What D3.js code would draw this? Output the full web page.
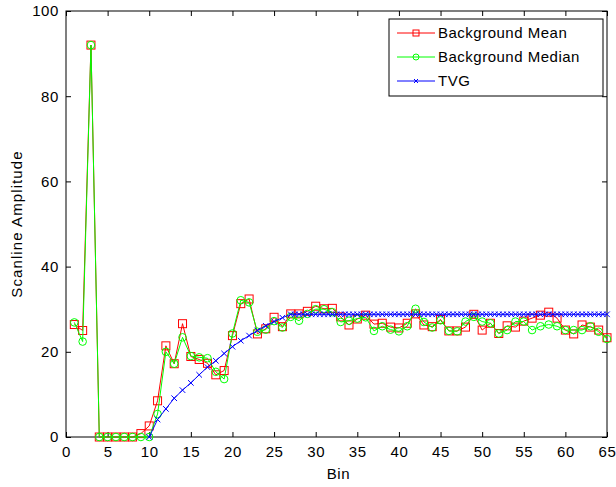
<!DOCTYPE html>
<html>
<head>
<meta charset="utf-8">
<script src="https://cdn.jsdelivr.net/npm/d3@7/dist/d3.min.js"></script>
<style>
  html, body { margin: 0; padding: 0; background: #fff; }
  svg { display: block; font-family: "Liberation Sans", Arial, sans-serif; }
</style>
</head>
<body>
<div id="chart"></div>
<script>
// 数据：每个 bin 的背景均值、中值和 TVG 曲线
const bins = [1,2,3,4,5,6,7,8,9,10,11,12,13,14,15,16,17,18,19,20,21,22,23,24,25,26,27,28,29,30,31,32,33,34,35,36,37,38,39,40,41,42,43,44,45,46,47,48,49,50,51,52,53,54,55,56,57,58,59,60,61,62,63,64,65];
const bgMean = [26.4,25,92,0,0,0,0,0,0.8,2.6,8.5,21.4,17.2,26.6,18.9,18.2,17.3,14.6,15.6,23.8,31.3,32.4,24.2,25.4,28.1,25.9,28.9,28.9,29.5,30.7,30.1,30.2,28.2,26.3,27.7,28.6,26.5,26.7,25.8,25.6,26.7,28.9,26.3,25.9,27.6,24.9,24.9,25.8,28.8,25.1,26.7,24.3,26.1,25.8,27.2,27.9,28.6,29.3,27.9,25.1,24.2,26.3,25.8,25.1,23.3];
const bgMedian = [26.9,22.4,92,0,0,0,0,0,0,0,5.4,20,17.2,23.4,19,18.7,18.5,15.3,13.6,24.3,32.1,31.6,24.7,25.2,27.2,25.7,28.2,27.3,28.9,30,30,29.3,27,27.3,27.8,28.1,24.9,26,25.2,24.8,26,30.1,27,25.7,27.4,24.9,24.8,27.1,28.2,27.1,26.7,24.3,25.1,27.1,27.1,25.1,26,26.4,26,25.1,25.1,25.1,26,24.7,23];
const tvgBins = [10,11,12,13,14,15,16,17,18,19,20,21,22,23,24,25,26,27,27.5,28,28.5,29,29.5,30,30.5,31,31.5,32,32.5,33,33.5,34,34.5,35,35.5,36,36.5,37,37.5,38,38.5,39,39.5,40,40.5,41,41.5,42,42.5,43,43.5,44,44.5,45,45.5,46,46.5,47,47.5,48,48.5,49,49.5,50,50.5,51,51.5,52,52.5,53,53.5,54,54.5,55,55.5,56,56.5,57,57.5,58,58.5,59,59.5,60,60.5,61,61.5,62,62.5,63,63.5,64,64.5,65];
const tvgValues = [0,4.1,6.6,9.1,11,12.7,14.6,16.4,17.9,19.6,21.2,22.6,23.8,25,26.1,27.1,28,28.8,28.8,28.8,28.8,28.8,28.8,28.8,28.8,28.8,28.8,28.8,28.8,28.8,28.8,28.8,28.8,28.8,28.8,28.8,28.8,28.8,28.8,28.8,28.8,28.8,28.8,28.8,28.8,28.8,28.8,28.8,28.8,28.8,28.8,28.8,28.8,28.8,28.8,28.8,28.8,28.8,28.8,28.8,28.8,28.8,28.8,28.8,28.8,28.8,28.8,28.8,28.8,28.8,28.8,28.8,28.8,28.8,28.8,28.8,28.8,28.8,28.8,28.8,28.8,28.8,28.8,28.8,28.8,28.8,28.8,28.8,28.8,28.8,28.8,28.8,28.8,28.8];
const xTicks = [0,5,10,15,20,25,30,35,40,45,50,55,60,65];
const yTicks = [0,20,40,60,80,100];
const seriesNames = ['Background Mean', 'Background Median', 'TVG'];

const width = 616, height = 487;
const margin = { left: 66, right: 9, top: 11, bottom: 50 };
const fontSize = 15;

const svg = d3.select('#chart').append('svg')
  .attr('width', width)
  .attr('height', height);

const x = d3.scaleLinear().domain([0, 65]).range([margin.left, width - margin.right]);
const y = d3.scaleLinear().domain([0, 100]).range([height - margin.bottom, margin.top]);

const plotW = x(65) - x(0);
const plotH = y(0) - y(100);

// 坐标轴（MATLAB 风格，刻度朝内，四边都有）
const tickLen = 5;
svg.append('g')
  .attr('transform', `translate(0,${y(0)})`)
  .call(d3.axisBottom(x).tickValues(xTicks).tickSizeInner(-tickLen).tickSizeOuter(0).tickPadding(9))
  .call(g => g.select('.domain').remove());
svg.append('g')
  .attr('transform', `translate(0,${y(100)})`)
  .call(d3.axisTop(x).tickValues(xTicks).tickSizeInner(-tickLen).tickSizeOuter(0).tickFormat(''))
  .call(g => g.select('.domain').remove());
svg.append('g')
  .attr('transform', `translate(${x(0)},0)`)
  .call(d3.axisLeft(y).tickValues(yTicks).tickSizeInner(-tickLen).tickSizeOuter(0).tickPadding(7))
  .call(g => g.select('.domain').remove());
svg.append('g')
  .attr('transform', `translate(${x(65)},0)`)
  .call(d3.axisRight(y).tickValues(yTicks).tickSizeInner(-tickLen).tickSizeOuter(0).tickFormat(''))
  .call(g => g.select('.domain').remove());

svg.selectAll('.tick text')
  .attr('font-size', fontSize)
  .attr('font-family', '"Liberation Sans", Arial, sans-serif')
  .attr('letter-spacing', 0.6)
  .attr('fill', '#000');
svg.selectAll('.tick line').attr('stroke', '#000');

// 外框
svg.append('rect')
  .attr('x', x(0))
  .attr('y', y(100))
  .attr('width', plotW)
  .attr('height', plotH)
  .attr('fill', 'none')
  .attr('stroke', '#000')
  .attr('stroke-width', 1);

// 轴标题
svg.append('text')
  .attr('x', x(32.5) + 2)
  .attr('y', 479)
  .attr('text-anchor', 'middle')
  .attr('font-size', fontSize)
  .attr('letter-spacing', 0.6)
  .text('Bin');
svg.append('text')
  .attr('transform', `translate(22,${y(50)}) rotate(-90)`)
  .attr('text-anchor', 'middle')
  .attr('font-size', fontSize)
  .attr('letter-spacing', 1.1)
  .text('Scanline Amplitude');

const plot = svg.append('g');
const line = d3.line().x(d => x(d[0])).y(d => y(d[1]));

const meanData = bins.map((b, i) => [b, bgMean[i]]);
const medianData = bins.map((b, i) => [b, bgMedian[i]]);
const tvgData = tvgBins.map((b, i) => [b, tvgValues[i]]);

// 标记绘制函数
function drawSquare(g, data, color, s) {
  g.selectAll(null).data(data).enter().append('rect')
    .attr('x', d => x(d[0]) - s / 2)
    .attr('y', d => y(d[1]) - s / 2)
    .attr('width', s)
    .attr('height', s)
    .attr('fill', 'none')
    .attr('stroke', color);
}
function drawCircle(g, data, color, r) {
  g.selectAll(null).data(data).enter().append('circle')
    .attr('cx', d => x(d[0]))
    .attr('cy', d => y(d[1]))
    .attr('r', r)
    .attr('fill', 'none')
    .attr('stroke', color);
}
function drawCross(g, data, color, s) {
  g.selectAll(null).data(data).enter().append('path')
    .attr('d', d => {
      const cx = x(d[0]), cy = y(d[1]);
      return `M${cx - s},${cy - s}L${cx + s},${cy + s}M${cx - s},${cy + s}L${cx + s},${cy - s}`;
    })
    .attr('fill', 'none')
    .attr('stroke', color);
}

// Background Mean
plot.append('path').datum(meanData)
  .attr('d', line).attr('fill', 'none').attr('stroke', '#ff0000').attr('stroke-width', 1);
drawSquare(plot.append('g'), meanData, '#ff0000', 8);

// Background Median
plot.append('path').datum(medianData)
  .attr('d', line).attr('fill', 'none').attr('stroke', '#00ff00').attr('stroke-width', 1);
drawCircle(plot.append('g'), medianData, '#00ff00', 3.8);

// TVG
plot.append('path').datum(tvgData)
  .attr('d', line).attr('fill', 'none').attr('stroke', '#0000ff').attr('stroke-width', 1);
drawCross(plot.append('g'), tvgData, '#0000ff', 2.8);

// 图例
const legend = svg.append('g');
legend.append('rect')
  .attr('x', 389).attr('y', 19).attr('width', 214).attr('height', 77)
  .attr('fill', '#fff').attr('stroke', '#000');
const colors = ['#ff0000', '#00ff00', '#0000ff'];
seriesNames.forEach((name, i) => {
  const ly = 33 + i * 24;
  legend.append('line')
    .attr('x1', 397).attr('x2', 435).attr('y1', ly).attr('y2', ly)
    .attr('stroke', colors[i]);
  if (i === 0) {
    legend.append('rect').attr('x', 413).attr('y', ly - 3).attr('width', 6).attr('height', 6)
      .attr('fill', 'none').attr('stroke', colors[i]);
  } else if (i === 1) {
    legend.append('circle').attr('cx', 416).attr('cy', ly).attr('r', 3)
      .attr('fill', 'none').attr('stroke', colors[i]);
  } else {
    legend.append('path').attr('d', `M414,${ly - 2}L418,${ly + 2}M414,${ly + 2}L418,${ly - 2}`)
      .attr('stroke', colors[i]).attr('fill', 'none');
  }
  legend.append('text')
    .attr('x', 438).attr('y', ly + 5)
    .attr('font-size', fontSize)
    .attr('letter-spacing', 0.5)
    .text(name);
});
</script>
</body>
</html>
